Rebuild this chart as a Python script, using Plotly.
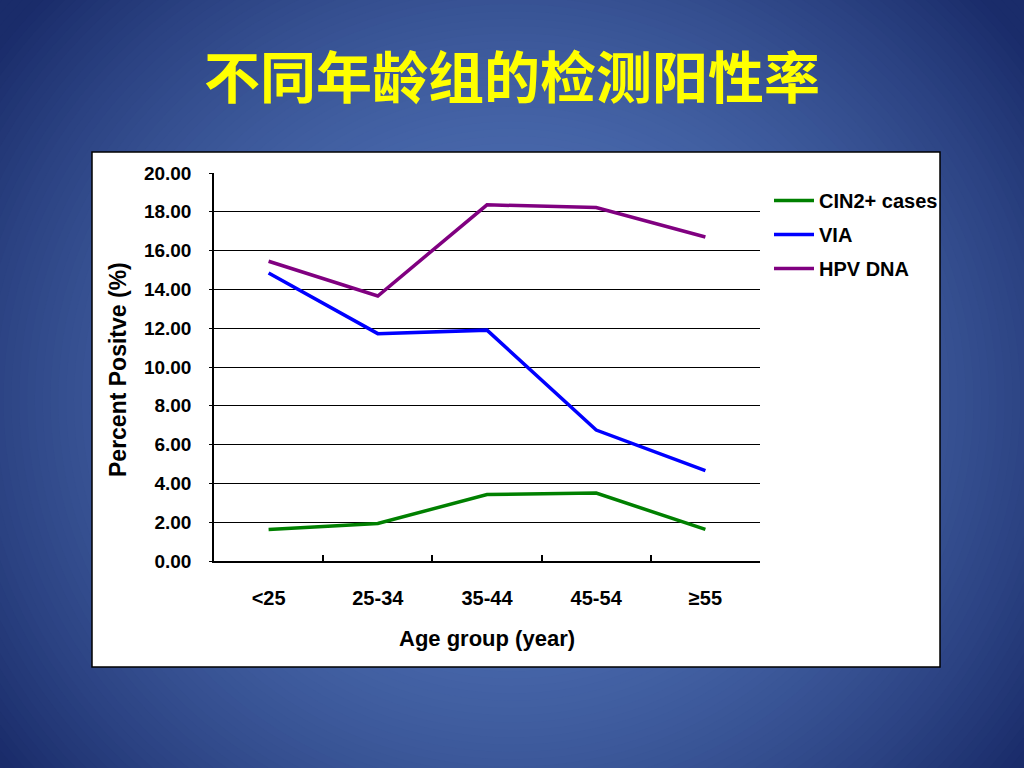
import plotly.graph_objects as go

# ---- data ----
age_groups = ["<25", "25-34", "35-44", "45-54", "≥55"]
cin2_cases = [1.62, 1.93, 3.43, 3.50, 1.63]
via = [14.85, 11.72, 11.90, 6.75, 4.66]
hpv_dna = [15.45, 13.66, 18.36, 18.22, 16.70]

series_names = ["CIN2+ cases", "VIA", "HPV DNA"]
series_colors = ["#008000", "#0000FF", "#800080"]

W, H = 1024, 768
FONT = "Liberation Sans, Arial, sans-serif"

fig = go.Figure()
for name, vals, col in zip(series_names, [cin2_cases, via, hpv_dna], series_colors):
    fig.add_trace(go.Scatter(
        x=age_groups, y=vals, name=name, mode="lines",
        line=dict(color=col, width=3.5),
        legendgroup=name,
    ))

# ---- radial-ish background gradient (decoration) ----
def lerp(c0, c1, f):
    return tuple(round(a + (b - a) * f) for a, b in zip(c0, c1))

center_c = (80, 114, 182)
edge_c = (26, 44, 106)
cx, cy, rx, ry = 512, 400, 640, 600
shapes = []
N = 90
for i in range(N, 0, -1):
    t = i / N * 1.1
    f = min(1.0, t * t)
    r, g, b = lerp(center_c, edge_c, f)
    shapes.append(dict(
        type="circle", xref="paper", yref="paper", layer="below",
        x0=(cx - t * rx) / W, x1=(cx + t * rx) / W,
        y0=1 - (cy + t * ry) / H, y1=1 - (cy - t * ry) / H,
        fillcolor=f"rgb({r},{g},{b})", line=dict(width=0),
    ))
# white chart panel
shapes.append(dict(
    type="rect", xref="paper", yref="paper", layer="below",
    x0=92 / W, x1=940 / W, y0=1 - 667 / H, y1=1 - 152 / H,
    fillcolor="white", line=dict(color="black", width=1.5),
))

fig.update_layout(
    width=W, height=H,
    margin=dict(l=0, r=0, t=0, b=0, autoexpand=False),
    paper_bgcolor="rgb(26,44,106)",
    plot_bgcolor="white",
    font=dict(family=FONT, size=18, color="black", weight="bold"),
    shapes=shapes,
    showlegend=True,
    legend=dict(
        x=769 / W, y=1 - 181 / H, xanchor="left", yanchor="top",
        bgcolor="rgba(0,0,0,0)", borderwidth=0,
        font=dict(family=FONT, size=20, color="black", weight="bold"),
        tracegroupgap=5, traceorder="grouped", itemwidth=40,
    ),
    title=dict(
        text="不同年龄组的检测阳性率",
        x=0.5, xanchor="center", y=1 - 78 / H, yanchor="middle",
        xref="paper", yref="paper",
        font=dict(family="Noto Sans CJK SC", size=56, color="#FFFF00", weight="bold"),
    ),
    xaxis=dict(
        domain=[214 / W, 760 / W],
        type="category",
        range=[-0.5, len(age_groups) - 0.5],
        tickson="boundaries",
        ticks="inside", ticklen=6, tickcolor="black", tickwidth=1.5,
        showline=True, linecolor="black", linewidth=1.5,
        showgrid=False, zeroline=False,
        ticklabelstandoff=18,
        tickfont=dict(family=FONT, size=20, color="black", weight="bold"),
        fixedrange=True,
    ),
    yaxis=dict(
        domain=[1 - 561 / H, 1 - 173 / H],
        range=[0, 20], dtick=2, tickformat=".2f",
        ticks="outside", ticklen=3, tickcolor="black",
        showline=True, linecolor="black", linewidth=1.5,
        showgrid=True, gridcolor="black", gridwidth=1,
        zeroline=False,
        ticklabelstandoff=14,
        tickfont=dict(family=FONT, size=19, color="black", weight="bold"),
        fixedrange=True,
    ),
    annotations=[
        dict(text="Age group (year)", xref="paper", yref="paper",
             x=487 / W, y=1 - 638 / H, xanchor="center", yanchor="middle",
             showarrow=False,
             font=dict(family=FONT, size=22, color="black", weight="bold")),
        dict(text="Percent Positve (%)", xref="paper", yref="paper",
             x=118 / W, y=1 - 370 / H, xanchor="center", yanchor="middle",
             textangle=-90, showarrow=False,
             font=dict(family=FONT, size=23, color="black", weight="bold")),
    ],
)

fig.write_html(
    "out.html",
    config={"displayModeBar": False},
    post_script="document.body.style.margin='0';document.body.style.overflow='hidden';",
)
